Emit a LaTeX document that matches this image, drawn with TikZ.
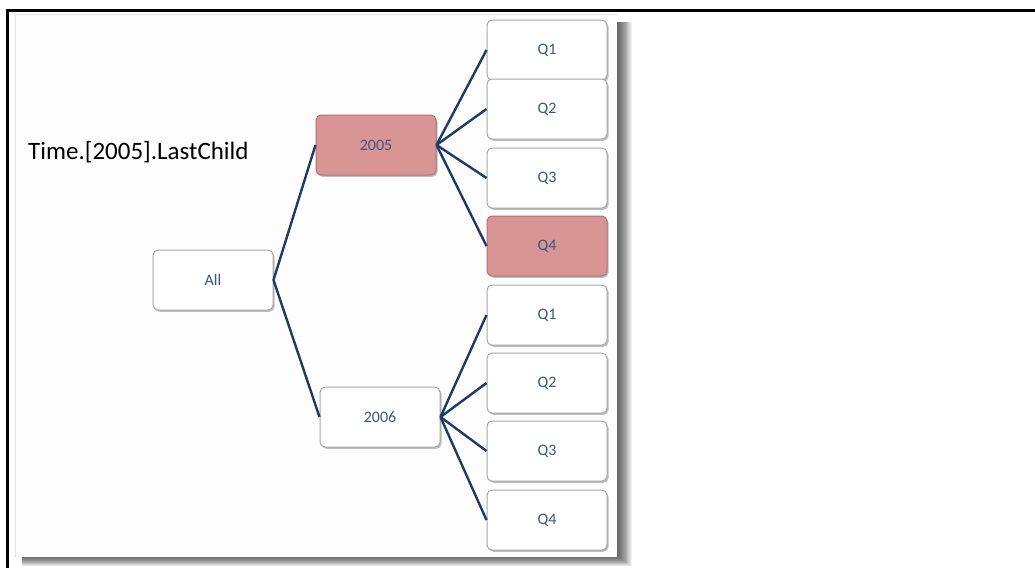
\documentclass[tikz,border=0pt]{standalone}
\usepackage{fontspec}
\setmainfont{Carlito}
\usetikzlibrary{shadows}
\definecolor{linkblue}{HTML}{1F3A64}
\definecolor{textblue}{HTML}{3B5681}
\definecolor{rosefill}{HTML}{D99594}
\definecolor{roseedge}{HTML}{B07272}
\definecolor{boxedge}{HTML}{A6A6A6}
\definecolor{panelfill}{HTML}{FDFDFD}
\definecolor{paneledge}{HTML}{E2E2E2}
\begin{document}
\begin{tikzpicture}[x=1pt,y=-1pt,
  member/.style={draw=boxedge, line width=1pt, fill=white, rounded corners=5pt,
    minimum width=120pt, minimum height=60pt, inner sep=0pt,
    text=textblue, font=\fontsize{16}{18}\selectfont,
    drop shadow={shadow xshift=1.5pt, shadow yshift=-1.8pt, opacity=0.25, fill=black}},
  picked/.style={member, fill=rosefill, draw=roseedge},
  link/.style={draw=linkblue, line width=2.4pt}]
\useasboundingbox (0,0) rectangle (1035,568);
% page frame
\draw[line width=3pt] (7,568) -- (7,10) -- (1035,10);
% soft shadow behind the panel
\foreach \i in {1,...,16}{
  \fill[black, opacity=0.055] (22,22) rectangle ({617+0.95*\i},{556+0.65*\i});
}
% panel
\fill[panelfill] (15,14) rectangle (617,557);
\draw[paneledge, line width=1.5pt] (15.5,557) -- (15.5,14.5) -- (617,14.5);
% caption
\node[anchor=west, font=\fontsize{25}{30}\selectfont, inner sep=0pt] (cap) at (28,152) {Time.[2005].LastChild};
% tree
\node[member] (all) at (213,280) {All};
\node[picked] (y05) at (376,145) {2005};
\node[member] (y06) at (380,417) {2006};
\node[member] (a1) at (547,50) {Q1};
\node[member] (a2) at (547,109) {Q2};
\node[member] (a3) at (547,178) {Q3};
\node[picked] (a4) at (547,246) {Q4};
\node[member] (b1) at (547,315) {Q1};
\node[member] (b2) at (547,383) {Q2};
\node[member] (b3) at (547,451) {Q3};
\node[member] (b4) at (547,520) {Q4};
% connectors
\draw[link] (all.east) -- (y05.west);
\draw[link] (all.east) -- (y06.west);
\foreach \q in {a1,a2,a3,a4}{\draw[link] (y05.east) -- (\q.west);}
\foreach \q in {b1,b2,b3,b4}{\draw[link] (y06.east) -- (\q.west);}
\end{tikzpicture}
\end{document}
